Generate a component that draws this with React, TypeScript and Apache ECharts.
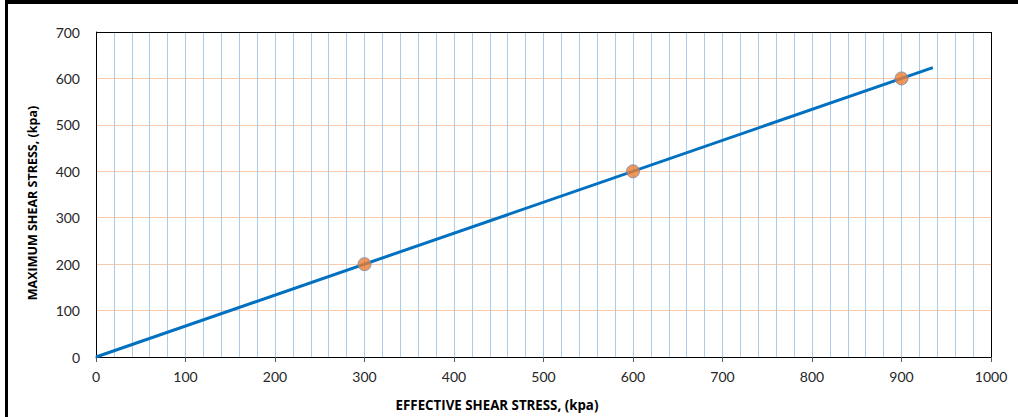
import React, { useEffect, useRef } from "react";
import * as echarts from "echarts";

const pointsX = [300, 600, 900];
const pointsY = [200, 400, 600];
const trendX = [0, 935];
const trendY = [0, 623.3];
const xTicks = { min: 0, max: 1000, interval: 100 };
const yTicks = { min: 0, max: 700, interval: 100 };
const xTitle = "EFFECTIVE SHEAR STRESS, (kpa)";
const yTitle = "MAXIMUM SHEAR STRESS, (kpa)";

export default function App() {
  const ref = useRef<HTMLDivElement>(null);
  useEffect(() => {
    const chart = echarts.init(ref.current!, null, { renderer: "svg" });
    const font = "Lato, 'Open Sans', sans-serif";
    const titleFont = "'Open Sans', sans-serif";
    const gl = 96, gt = 32, gr = 27, gb = 60;
    chart.setOption({
      animation: false,
      backgroundColor: "#ffffff",
      grid: { left: gl, right: gr, top: gt, bottom: gb },
      xAxis: {
        type: "value",
        min: xTicks.min,
        max: xTicks.max,
        interval: xTicks.interval,
        axisLine: { show: true, lineStyle: { color: "#000000", width: 1 } },
        axisTick: { show: true, length: 5, lineStyle: { color: "#595959" } },
        axisLabel: {
          fontFamily: font,
          fontSize: 14,
          color: "#262626",
          margin: 12,
          formatter: (v: number) => String(v),
        },
        splitLine: { show: true, lineStyle: { color: "#A9CCEB", width: 1 } },
        minorTick: { show: false, splitNumber: 5 },
        minorSplitLine: { show: true, lineStyle: { color: "#A9CCEB", width: 1 } },
      },
      yAxis: {
        type: "value",
        min: yTicks.min,
        max: yTicks.max,
        interval: yTicks.interval,
        axisLine: { show: true, lineStyle: { color: "#000000", width: 1 } },
        axisTick: { show: false },
        axisLabel: {
          fontFamily: font,
          fontSize: 14,
          color: "#262626",
          margin: 16,
          formatter: (v: number) => String(v),
        },
        splitLine: { show: true, lineStyle: { color: "#F8CBAD", width: 1 } },
      },
      series: [
        {
          type: "line",
          data: trendX.map((x, i) => [x, trendY[i]]),
          showSymbol: false,
          symbol: "none",
          lineStyle: { color: "#0070C0", width: 3 },
          z: 2,
        },
        {
          type: "scatter",
          data: pointsX.map((x, i) => [x, pointsY[i]]),
          symbol: "circle",
          symbolSize: 13,
          itemStyle: { color: "#ED7D31", borderColor: "#6A8DB5", borderWidth: 1 },
          z: 3,
        },
      ],
      graphic: [
        {
          type: "line",
          z: 100,
          shape: { x1: gl, y1: gt + 0.5, x2: 1018 - gr + 1, y2: gt + 0.5 },
          style: { stroke: "#000000", lineWidth: 1 },
        },
        {
          type: "line",
          z: 100,
          shape: { x1: 1018 - gr + 0.5, y1: gt, x2: 1018 - gr + 0.5, y2: 417 - gb },
          style: { stroke: "#000000", lineWidth: 1 },
        },
        { type: "rect", z: 100, shape: { x: 5, y: 0, width: 1013, height: 4 }, style: { fill: "#000000" } },
        { type: "rect", z: 100, shape: { x: 5, y: 0, width: 3, height: 417 }, style: { fill: "#000000" } },
        {
          type: "text",
          x: 497,
          y: 405,
          style: {
            text: xTitle,
            fontFamily: titleFont,
            fontWeight: "bold",
            fontSize: 13.3,
            fill: "#000000",
            align: "center",
            verticalAlign: "middle",
          },
        },
        {
          type: "text",
          x: 32,
          y: 203,
          rotation: Math.PI / 2,
          style: {
            text: yTitle,
            fontFamily: titleFont,
            fontWeight: "bold",
            fontSize: 12.5,
            fill: "#000000",
            align: "center",
            verticalAlign: "middle",
          },
        },
      ],
    });
    return () => chart.dispose();
  }, []);
  return (
    <div
      ref={ref}
      style={{ position: "fixed", left: 0, top: 0, width: 1018, height: 417 }}
    />
  );
}
